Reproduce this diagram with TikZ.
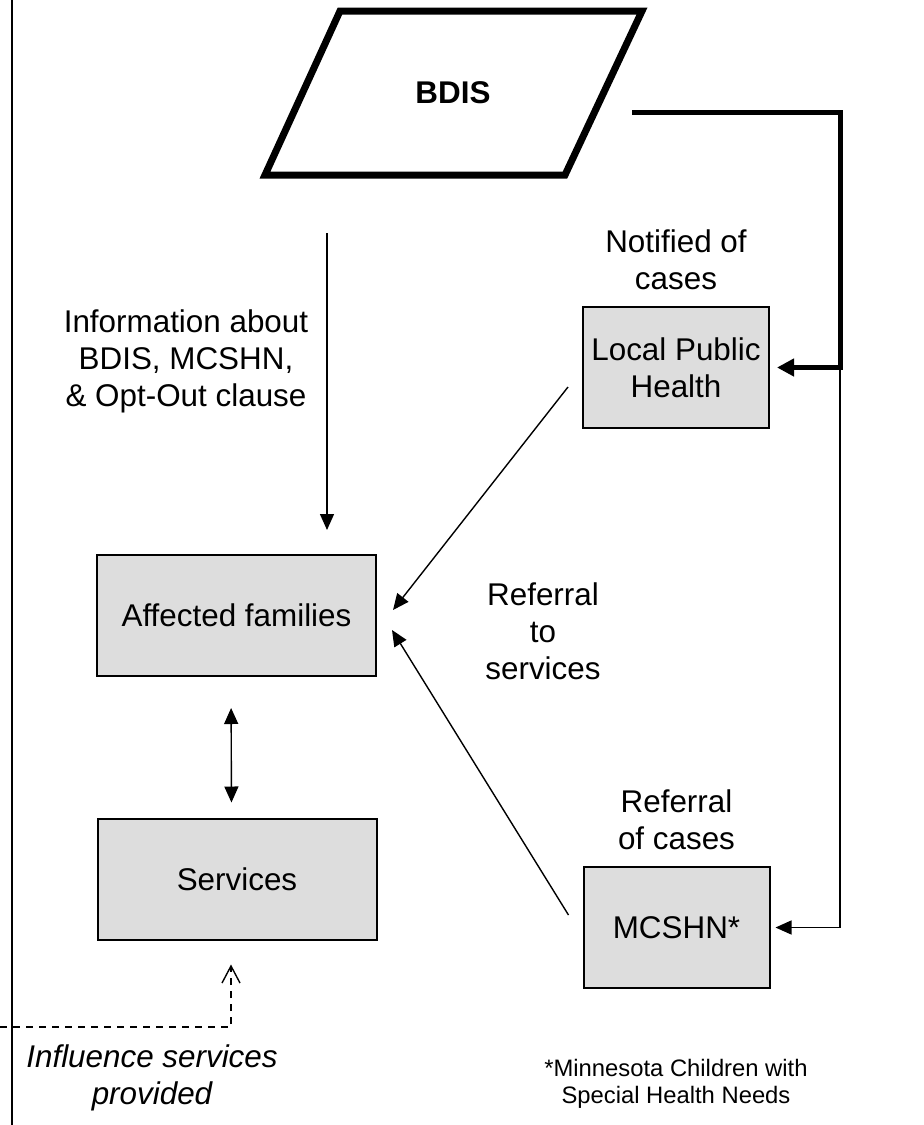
\documentclass[tikz,border=0pt]{standalone}
\usepackage{fontspec}
\setmainfont{Liberation Sans}
\usepackage{xcolor}
\usetikzlibrary{positioning, arrows.meta}

\definecolor{boxgray}{HTML}{DDDDDD}
\newcommand{\lblfont}{\fontsize{15.7pt}{18.5pt}\selectfont}
\newcommand{\notefont}{\fontsize{11.9pt}{13.5pt}\selectfont}

\tikzset{
    box/.style={draw,
        line width=1pt,
        fill=boxgray,
        minimum width=139.5pt,
        minimum height=60.5pt,
        align=center,
        inner sep=0pt},
    lbl/.style={align=center, inner sep=0pt},
    arr/.style={line width=0.7pt, -{Triangle[length=8pt,width=7pt]}},
    dblarr/.style={line width=0.7pt, {Triangle[length=8pt,width=7pt]}-{Triangle[length=8pt,width=7pt]}},
    thickarr/.style={line width=2.5pt, line join=miter, -{Triangle[length=8.5pt,width=8.5pt]}},
    dasharr/.style={line width=0.7pt, dash pattern=on 3.5pt off 3pt, -{Straight Barb[length=8.5pt,width=9pt]}}
}

\begin{document}
\begin{tikzpicture}[x=0.5pt, y=-0.5pt, font=\lblfont]

        \useasboundingbox (0,0) rectangle (924,1125);

        % margin rule
        \draw[line width=0.8pt] (12,0) -- (12,1125);

        % BDIS
        \draw[line width=3.5pt, line join=miter]
            (340,11) -- (642,11) -- (565,175) -- (265,175) -- cycle;
        \node [font=\lblfont\bfseries] (bdis) at (453,93) {BDIS};

        % Boxes
        \node [box] (fam) at (236.5,615.5) {Affected families};
        \node [box] (serv) at (237,879) {Services};
        \node [box,
            minimum width=93pt
            ] (lph) at (676,367.5) {Local Public\\Health};
        \node [box,
            minimum width=93pt
            ] (mcshn) at (676.5,927.5) {MCSHN*};

        % Labels
        \node [lbl] (infolbl) at (186,361)
            {Information about\\BDIS, MCSHN,\\\& Opt-Out clause};
        \node [lbl, above=8pt of lph] (notified) {Notified of\\cases};
        \node [lbl, above=8pt of mcshn] (refcases) {Referral\\of cases};
        \node [lbl] (refserv) at (543,631.5) {Referral\\to\\services};
        \node [lbl, font=\lblfont\itshape] (influence) at (152,1078)
            {Influence services\\provided};
        \node [lbl, font=\notefont] (note) at (676,1084)
            {*Minnesota Children with\\Special Health Needs};

        % Connectors
        \coordinate (infotop) at (327,233);
        \draw[arr, shorten >=12pt] (infotop) -- (infotop |- fam.north);

        \draw[dblarr, shorten <=15.5pt, shorten >=7.5pt]
            ([xshift=-2.75pt]fam.south) -- ([xshift=-2.75pt]serv.north);

        \draw[arr] ([xshift=-7pt,yshift=-9.75pt]lph.west)
            -- ([xshift=8pt,yshift=2.75pt]fam.east);
        \draw[arr] ([xshift=-7pt,yshift=6.25pt]mcshn.west)
            -- ([xshift=7.5pt,yshift=-7.25pt]fam.east);

        \coordinate (bdisout) at (632,112);
        \coordinate (trunk) at (840,112);
        \draw[thickarr, shorten >=3.5pt] (bdisout) -- (trunk) |- (lph.east);
        \draw[arr, shorten >=2.5pt] (trunk |- lph.east) |- (mcshn.east);

        \coordinate (inflstart) at (0,1027);
        \draw[dasharr, shorten >=12pt] (inflstart) -| ([xshift=-3pt]serv.south);

\end{tikzpicture}
\end{document}
